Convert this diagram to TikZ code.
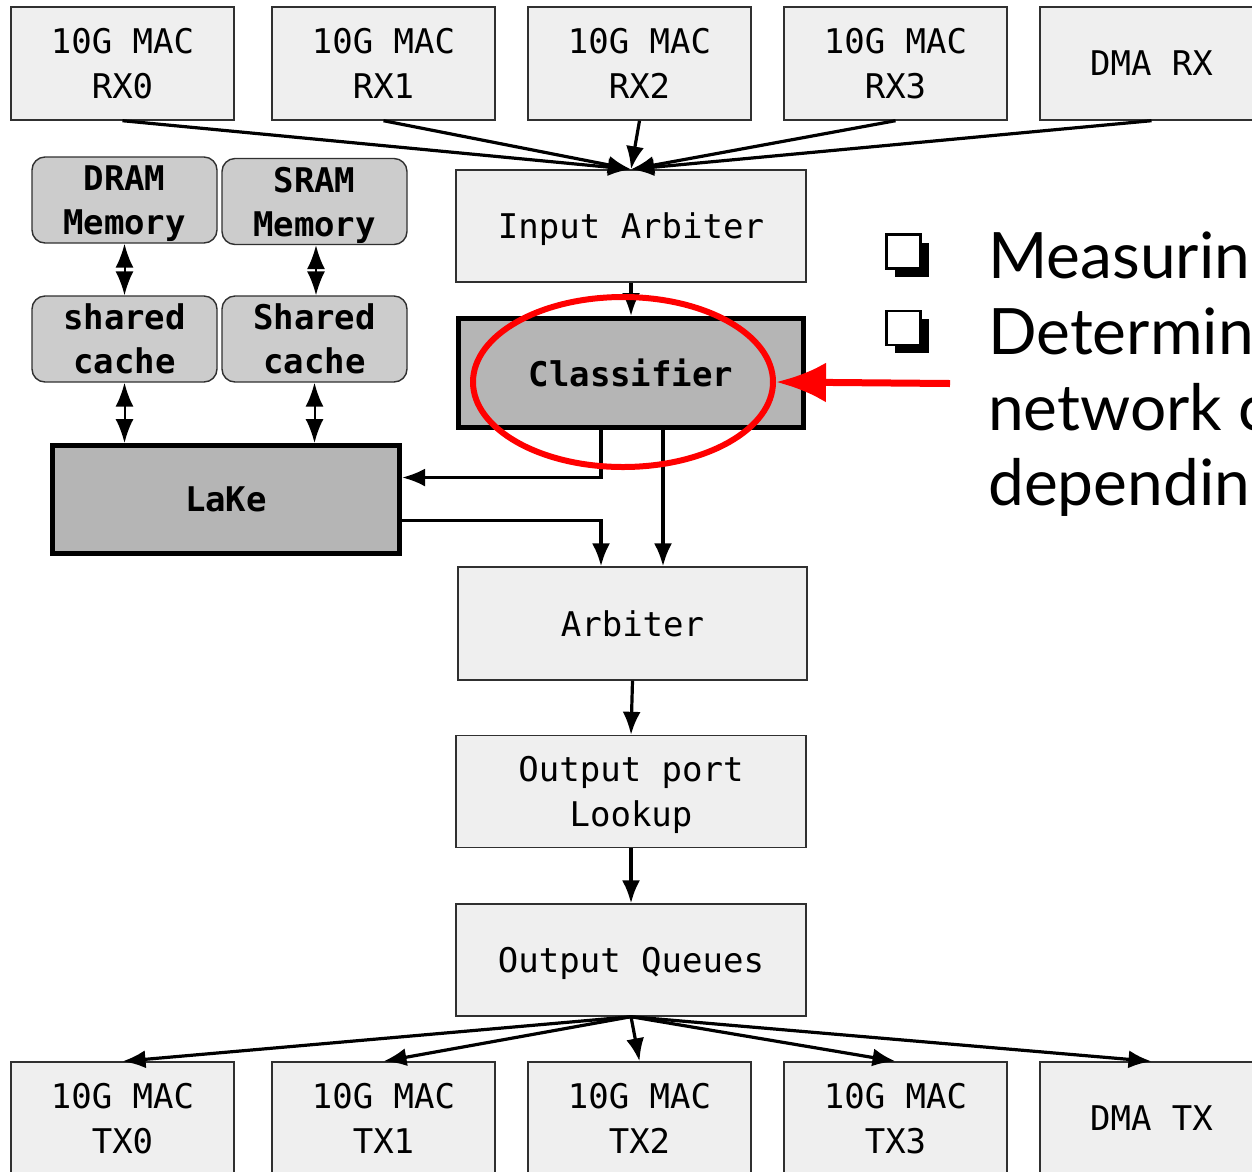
\documentclass[tikz,border=0pt]{standalone}
\usepackage{fontspec}
\usepackage{xcolor}
\usepackage{tikz}
\usetikzlibrary{arrows.meta,positioning,calc,shapes.geometric,shadows}
\newfontfamily\boxfont{DejaVu Sans Mono}
\newfontfamily\slidefont{Lato}
\definecolor{BoxFog}{HTML}{EFEFEF}
\definecolor{MemGray}{HTML}{CCCCCC}
\definecolor{CoreGray}{HTML}{B5B5B5}
\definecolor{EdgeInk}{HTML}{303030}
\definecolor{MarkRed}{HTML}{FF0000}

\tikzset{
  blk/.style={draw=EdgeInk,fill=BoxFog,line width=1.4pt,minimum width=223pt,
    minimum height=113pt,align=center,inner sep=0pt,text depth=0pt,
    font=\boxfont\fontsize{34}{45}\selectfont},
  midblk/.style={blk,minimum width=350pt,minimum height=112pt},
  memblk/.style={draw=EdgeInk,fill=MemGray,line width=1.4pt,rounded corners=13pt,
    minimum width=185pt,minimum height=86pt,align=center,inner sep=0pt,
    text depth=0pt,font=\boxfont\bfseries\fontsize{34}{44}\selectfont},
  coreblk/.style={draw=black,fill=CoreGray,line width=5pt,align=center,
    inner sep=0pt,font=\boxfont\bfseries\fontsize{34}{44}\selectfont},
  flow/.style={->,line width=3.2pt},
  duplex/.style={{Latex[length=24pt,width=18pt]}-{Latex[length=24pt,width=18pt]},line width=2pt},
  bulletbox/.style={draw=black,fill=white,line width=2.5pt,minimum size=34pt,
    inner sep=0pt,general shadow={fill=black,shadow xshift=8pt,shadow yshift=-8pt}},
  bullettext/.style={anchor=base west,inner sep=0pt,font=\slidefont\fontsize{64}{76}\selectfont}
}

\begin{document}
\begin{tikzpicture}[x=1pt,y=-1pt,>={Latex[length=23pt,width=18pt]}]
  \useasboundingbox (0,0) rectangle (1252,1171);

  % receive side
  \node[blk] (rx0) at (122.5,63.5) {10G MAC\\RX0};
  \node[blk] (rx1) at (383.5,63.5) {10G MAC\\RX1};
  \node[blk] (rx2) at (639.5,63.5) {10G MAC\\RX2};
  \node[blk] (rx3) at (895.5,63.5) {10G MAC\\RX3};
  \node[blk] (dmarx) at (1151.5,63.5) {DMA RX};

  % main pipeline
  \node[midblk] (inarb) at (631,226) {Input Arbiter};
  \node[coreblk,minimum width=345pt,minimum height=109pt] (cls) at (631,373) {Classifier};
  \node[midblk,minimum width=349pt,minimum height=113pt] (arb) at (632.5,623.5) {Arbiter};
  \node[midblk] (lookup) at (631,791.5) {Output port\\Lookup};
  \node[midblk] (oq) at (631,960) {Output Queues};

  % memory hierarchy
  \node[memblk] (dram) at (124.5,200) {DRAM\\Memory};
  \node[memblk] (sram) at (314.5,201.5) {SRAM\\Memory};
  \node[memblk] (cache1) at (124.5,339) {shared\\cache};
  \node[memblk] (cache2) at (314.5,339) {Shared\\cache};
  \node[coreblk,minimum width=347pt,minimum height=108pt] (lake) at (226,499.5) {LaKe};

  % transmit side
  \node[blk] (tx0) at (122.5,1118.5) {10G MAC\\TX0};
  \node[blk] (tx1) at (383.5,1118.5) {10G MAC\\TX1};
  \node[blk] (tx2) at (639.5,1118.5) {10G MAC\\TX2};
  \node[blk] (tx3) at (895.5,1118.5) {10G MAC\\TX3};
  \node[blk] (dmatx) at (1151.5,1118.5) {DMA TX};

  % inputs into the arbiter
  \draw[flow] (rx0.south) -- (inarb.north);
  \draw[flow] (rx1.south) -- (inarb.north);
  \draw[flow] (rx2.south) -- (inarb.north);
  \draw[flow] (rx3.south) -- (inarb.north);
  \draw[flow] (dmarx.south) -- (inarb.north);
  \draw[flow] (inarb.south) -- (cls.north);

  % classifier to LaKe and back
  \draw[flow] ([xshift=-30pt]cls.south) |- ([yshift=22pt]lake.east);
  \draw[flow] ([yshift=-21pt]lake.east) -| ([xshift=-31.5pt]arb.north);
  \draw[flow] ([xshift=32pt]cls.south) -- ([xshift=32pt]cls.south |- arb.north);

  \draw[flow] (arb.south) -- (lookup.north);
  \draw[flow] (lookup.south) -- (oq.north);

  % fan out to the ports
  \draw[flow] (oq.south) -- (tx0.north);
  \draw[flow] (oq.south) -- (tx1.north);
  \draw[flow] (oq.south) -- (tx2.north);
  \draw[flow] (oq.south) -- (tx3.north);
  \draw[flow] (oq.south) -- (dmatx.north);

  % memory links
  \draw[duplex] (dram.south) -- (cache1.north);
  \draw[duplex] ([xshift=1.5pt]sram.south) -- ([xshift=1.5pt]cache2.north);
  \draw[duplex] (cache1.south) -- (cache1.south |- lake.north);
  \draw[duplex] (cache2.south) -- (cache2.south |- lake.north);

  % highlight
  \node[draw=MarkRed,ellipse,line width=6pt,minimum width=300pt,
        minimum height=170pt,inner sep=0pt] (ring) at (623,382) {};
  \coordinate (pointer) at (950,383.5);
  \draw[MarkRed,line width=7pt,-{Latex[length=50pt,width=40pt]}] (pointer) -- (ring.east);

  % bullet list
  \node[bulletbox] (b1) at (903.5,251.5) {};
  \node[bulletbox] (b2) at (903.5,328) {};
  \node[bullettext] (t1) at (988,278) {Measurin};
  \node[bullettext] (t2) at (988,354) {Determin};
  \node[bullettext] (t3) at (988,430) {network c};
  \node[bullettext] (t4) at (988,505) {depending};
\end{tikzpicture}
\end{document}
